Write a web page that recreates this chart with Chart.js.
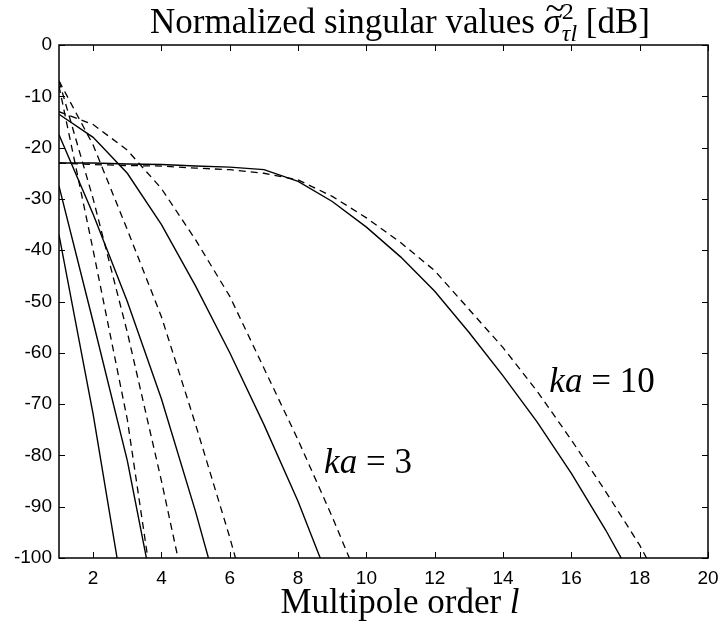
<!DOCTYPE html>
<html>
<head>
<meta charset="utf-8">
<script src="https://cdn.jsdelivr.net/npm/chart.js@4.4.1/dist/chart.umd.min.js"></script>
<style>
  html, body { margin: 0; padding: 0; background: #fff; }
  #wrap { width: 719px; height: 623px; }
</style>
</head>
<body>
<div id="wrap"><canvas id="chart" width="719" height="623"></canvas></div>
<script>
// multipole order l = 1, 2, 3 ... (each series starts at l = 1)
var orders = [1, 2, 3, 4, 5, 6, 7, 8, 9, 10, 11, 12, 13, 14, 15, 16, 17, 18, 19, 20];

// solid curves
var solid1 = [-37, -72, -112];
var solid2 = [-27.5, -54, -81, -115];
var solid3 = [-17.5, -33, -50, -69, -91, -115];
var solid4 = [-13.5, -18, -25, -35, -47, -60, -74, -89, -106];      // ka = 3
var solid5 = [-23, -23, -23.2, -23.3, -23.6, -23.8, -24.3, -26.6, -30.5, -35.5,
              -41.3, -48, -56, -64.5, -73.5, -83.5, -94.5, -106.5];  // ka = 10

// dashed curves
var dashed1 = [-8, -40, -73, -118];
var dashed2 = [-7, -30, -56, -85, -116];
var dashed3 = [-7, -19.5, -36, -53, -74, -96, -120];
var dashed4 = [-13, -15.5, -20.5, -28, -38, -49, -63, -77, -92, -108];
var dashed5 = [-23, -23.3, -23.5, -23.6, -24, -24.3, -25, -26.3, -29.5, -33.7,
               -38.5, -44, -51.5, -59, -67.5, -77, -87, -97.5, -110];

var xTicks = [2, 4, 6, 8, 10, 12, 14, 16, 18, 20];
var yTicks = [0, -10, -20, -30, -40, -50, -60, -70, -80, -90, -100];

var solidSeries = [solid1, solid2, solid3, solid4, solid5];
var dashedSeries = [dashed1, dashed2, dashed3, dashed4, dashed5];

function toPoints(vals) {
    return vals.map(function (v, i) { return { x: orders[i], y: v }; });
}

var datasets = [];
solidSeries.forEach(function (s) {
    datasets.push({ data: toPoints(s), borderColor: '#000', borderWidth: 1.4,
                    pointRadius: 0, tension: 0, fill: false });
});
dashedSeries.forEach(function (s) {
    datasets.push({ data: toPoints(s), borderColor: '#000', borderWidth: 1.3,
                    borderDash: [7, 5], pointRadius: 0, tension: 0, fill: false });
});

// box, inward ticks and the LaTeX-ish texts
var decorations = {
    id: 'decorations',
    afterDraw: function (chart) {
        var ctx = chart.ctx, a = chart.chartArea;
        var xs = chart.scales.x, ys = chart.scales.y;
        ctx.save();
        ctx.strokeStyle = '#000';
        ctx.lineWidth = 1.5;
        ctx.strokeRect(a.left, a.top, a.right - a.left, a.bottom - a.top);

        ctx.lineWidth = 1;
        var tl = 6;
        xTicks.forEach(function (t) {
            var px = Math.round(xs.getPixelForValue(t)) + 0.5;
            ctx.beginPath();
            ctx.moveTo(px, a.bottom); ctx.lineTo(px, a.bottom - tl);
            ctx.moveTo(px, a.top); ctx.lineTo(px, a.top + tl);
            ctx.stroke();
        });
        yTicks.forEach(function (t) {
            var py = Math.round(ys.getPixelForValue(t)) + 0.5;
            ctx.beginPath();
            ctx.moveTo(a.left, py); ctx.lineTo(a.left + tl, py);
            ctx.moveTo(a.right, py); ctx.lineTo(a.right - tl, py);
            ctx.stroke();
        });

        ctx.fillStyle = '#000';
        ctx.textBaseline = 'alphabetic';
        var serif = '"Liberation Serif", "DejaVu Serif", serif';

        // title: Normalized singular values σ̃²_τl [dB]
        var big = '35px ' + serif, small = '24px ' + serif, smallIt = 'italic 24px ' + serif,
            bigIt = 'italic 35px ' + serif;
        var parts = [
            { t: 'Normalized singular values ', f: big },
            { t: 'σ', f: bigIt },
            { t: '2', f: small },
            { t: 'τl', f: smallIt },
            { t: ' [dB]', f: big }
        ];
        parts.forEach(function (p) {
            ctx.font = p.f;
            p.w = ctx.measureText(p.t).width;
        });
        var total = parts[0].w + parts[1].w + 1 + Math.max(parts[2].w, parts[3].w) + parts[4].w;
        var x = 400 - total / 2, base = 33;
        ctx.font = parts[0].f; ctx.fillText(parts[0].t, x, base); x += parts[0].w;
        ctx.font = parts[1].f; ctx.fillText(parts[1].t, x, base);
        ctx.font = big; ctx.fillText('~', x + 2, base - 13);
        x += parts[1].w + 1;
        ctx.font = parts[2].f; ctx.fillText(parts[2].t, x, base - 14);
        ctx.font = parts[3].f; ctx.fillText(parts[3].t, x, base + 8);
        x += Math.max(parts[2].w, parts[3].w);
        ctx.font = parts[4].f; ctx.fillText(parts[4].t, x, base);

        // x axis label
        ctx.font = big;
        var w1 = ctx.measureText('Multipole order ').width;
        ctx.font = bigIt;
        var w2 = ctx.measureText('l').width;
        var lx = 400 - (w1 + w2) / 2;
        ctx.font = big; ctx.fillText('Multipole order ', lx, 613);
        ctx.font = bigIt; ctx.fillText('l', lx + w1, 613);

        // curve labels
        function mathLabel(italic, rest, cx, by) {
            ctx.font = bigIt;
            var wi = ctx.measureText(italic).width;
            ctx.font = big;
            var wr = ctx.measureText(rest).width;
            var sx = cx - (wi + wr) / 2;
            ctx.font = bigIt; ctx.fillText(italic, sx, by);
            ctx.font = big; ctx.fillText(rest, sx + wi, by);
        }
        mathLabel('ka', ' = 3', 368, 473);
        mathLabel('ka', ' = 10', 602, 392);
        ctx.restore();
    }
};

new Chart(document.getElementById('chart'), {
    type: 'line',
    data: { datasets: datasets },
    plugins: [decorations],
    options: {
        responsive: false,
        animation: false,
        layout: { padding: { top: 45, right: 11, left: 0, bottom: 0 } },
        plugins: { legend: { display: false }, title: { display: false }, tooltip: { enabled: false } },
        scales: {
            x: {
                type: 'linear', min: 1, max: 20,
                afterFit: function (s) { s.height = 65; s.paddingLeft = 0; s.paddingRight = 0; },
                afterBuildTicks: function (s) { s.ticks = xTicks.map(function (v) { return { value: v }; }); },
                grid: { display: false, drawTicks: false }, border: { display: false },
                ticks: { color: '#000', padding: 9, maxRotation: 0,
                         font: { family: '"Liberation Sans", Arial, sans-serif', size: 19 } }
            },
            y: {
                type: 'linear', min: -100, max: 0,
                afterFit: function (s) { s.width = 59; s.paddingTop = 0; s.paddingBottom = 0; },
                afterBuildTicks: function (s) { s.ticks = yTicks.map(function (v) { return { value: v }; }); },
                grid: { display: false, drawTicks: false }, border: { display: false },
                ticks: { color: '#000', padding: 7,
                         font: { family: '"Liberation Sans", Arial, sans-serif', size: 19 } }
            }
        }
    }
});
</script>
</body>
</html>
